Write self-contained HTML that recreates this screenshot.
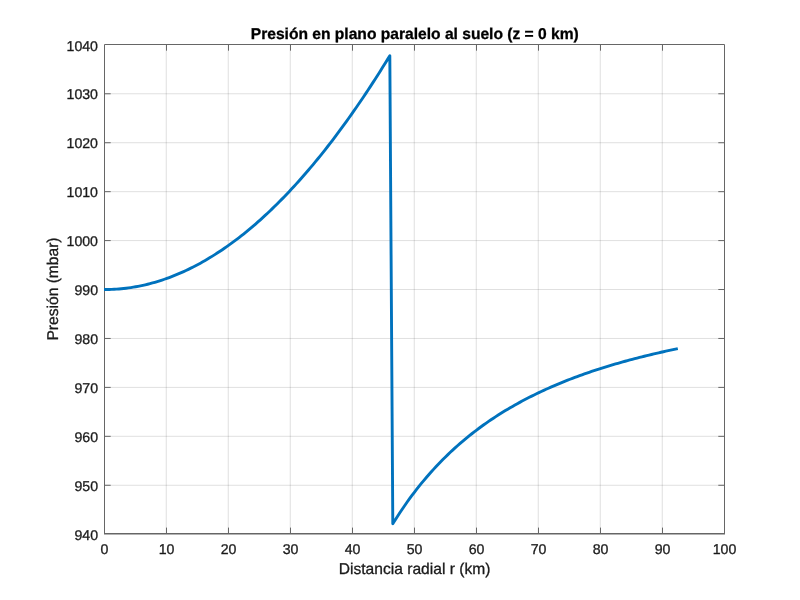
<!DOCTYPE html>
<html><head><meta charset="utf-8"><title>Presión</title>
<style>
html,body{margin:0;padding:0;background:#fff;}
body{width:800px;height:600px;overflow:hidden;}
svg{display:block;font-family:"Liberation Sans",sans-serif;text-rendering:geometricPrecision;}
</style></head><body>
<svg width="800" height="600" viewBox="0 0 800 600">
<rect width="800" height="600" fill="#fff"/>
<g stroke="#262626" stroke-opacity="0.14" stroke-width="1">
<line x1="166.25" y1="44.5" x2="166.25" y2="533.85"/>
<line x1="228.25" y1="44.5" x2="228.25" y2="533.85"/>
<line x1="290.25" y1="44.5" x2="290.25" y2="533.85"/>
<line x1="352.25" y1="44.5" x2="352.25" y2="533.85"/>
<line x1="414.25" y1="44.5" x2="414.25" y2="533.85"/>
<line x1="476.25" y1="44.5" x2="476.25" y2="533.85"/>
<line x1="538.25" y1="44.5" x2="538.25" y2="533.85"/>
<line x1="600.25" y1="44.5" x2="600.25" y2="533.85"/>
<line x1="662.25" y1="44.5" x2="662.25" y2="533.85"/>
<line x1="104.5" y1="485.27" x2="724.5" y2="485.27"/>
<line x1="104.5" y1="436.33" x2="724.5" y2="436.33"/>
<line x1="104.5" y1="387.40" x2="724.5" y2="387.40"/>
<line x1="104.5" y1="338.46" x2="724.5" y2="338.46"/>
<line x1="104.5" y1="289.53" x2="724.5" y2="289.53"/>
<line x1="104.5" y1="240.59" x2="724.5" y2="240.59"/>
<line x1="104.5" y1="191.66" x2="724.5" y2="191.66"/>
<line x1="104.5" y1="142.72" x2="724.5" y2="142.72"/>
<line x1="104.5" y1="93.78" x2="724.5" y2="93.78"/>
</g>
<g stroke="#666666" stroke-width="1" fill="none">
<path d="M104.5,533.85 V44.5 H724.5 V533.85"/>
<line x1="104.0" y1="533.8000000000001" x2="725.0" y2="533.8000000000001" stroke-width="1.5"/>
<line x1="166.5" y1="533.85" x2="166.5" y2="527.6"/>
<line x1="166.5" y1="44.5" x2="166.5" y2="50.7"/>
<line x1="228.5" y1="533.85" x2="228.5" y2="527.6"/>
<line x1="228.5" y1="44.5" x2="228.5" y2="50.7"/>
<line x1="290.5" y1="533.85" x2="290.5" y2="527.6"/>
<line x1="290.5" y1="44.5" x2="290.5" y2="50.7"/>
<line x1="352.5" y1="533.85" x2="352.5" y2="527.6"/>
<line x1="352.5" y1="44.5" x2="352.5" y2="50.7"/>
<line x1="414.5" y1="533.85" x2="414.5" y2="527.6"/>
<line x1="414.5" y1="44.5" x2="414.5" y2="50.7"/>
<line x1="476.5" y1="533.85" x2="476.5" y2="527.6"/>
<line x1="476.5" y1="44.5" x2="476.5" y2="50.7"/>
<line x1="538.5" y1="533.85" x2="538.5" y2="527.6"/>
<line x1="538.5" y1="44.5" x2="538.5" y2="50.7"/>
<line x1="600.5" y1="533.85" x2="600.5" y2="527.6"/>
<line x1="600.5" y1="44.5" x2="600.5" y2="50.7"/>
<line x1="662.5" y1="533.85" x2="662.5" y2="527.6"/>
<line x1="662.5" y1="44.5" x2="662.5" y2="50.7"/>
<line x1="104.5" y1="485.27" x2="110.7" y2="485.27"/>
<line x1="724.5" y1="485.27" x2="718.3" y2="485.27"/>
<line x1="104.5" y1="436.33" x2="110.7" y2="436.33"/>
<line x1="724.5" y1="436.33" x2="718.3" y2="436.33"/>
<line x1="104.5" y1="387.40" x2="110.7" y2="387.40"/>
<line x1="724.5" y1="387.40" x2="718.3" y2="387.40"/>
<line x1="104.5" y1="338.46" x2="110.7" y2="338.46"/>
<line x1="724.5" y1="338.46" x2="718.3" y2="338.46"/>
<line x1="104.5" y1="289.53" x2="110.7" y2="289.53"/>
<line x1="724.5" y1="289.53" x2="718.3" y2="289.53"/>
<line x1="104.5" y1="240.59" x2="110.7" y2="240.59"/>
<line x1="724.5" y1="240.59" x2="718.3" y2="240.59"/>
<line x1="104.5" y1="191.66" x2="110.7" y2="191.66"/>
<line x1="724.5" y1="191.66" x2="718.3" y2="191.66"/>
<line x1="104.5" y1="142.72" x2="110.7" y2="142.72"/>
<line x1="724.5" y1="142.72" x2="718.3" y2="142.72"/>
<line x1="104.5" y1="93.78" x2="110.7" y2="93.78"/>
<line x1="724.5" y1="93.78" x2="718.3" y2="93.78"/>
</g>
<path d="M104.00,289.57 L104.50,289.57 L106.90,289.55 L109.30,289.50 L111.69,289.42 L114.09,289.31 L116.49,289.16 L118.89,288.98 L121.28,288.76 L123.68,288.51 L126.08,288.23 L128.48,287.92 L130.87,287.57 L133.27,287.19 L135.67,286.78 L138.07,286.33 L140.47,285.86 L142.86,285.34 L145.26,284.80 L147.66,284.22 L150.06,283.61 L152.45,282.96 L154.85,282.29 L157.25,281.58 L159.65,280.83 L162.04,280.06 L164.44,279.25 L166.84,278.41 L169.24,277.53 L171.64,276.62 L174.03,275.68 L176.43,274.71 L178.83,273.70 L181.23,272.66 L183.62,271.59 L186.02,270.48 L188.42,269.34 L190.82,268.17 L193.21,266.96 L195.61,265.72 L198.01,264.45 L200.41,263.15 L202.80,261.81 L205.20,260.44 L207.60,259.04 L210.00,257.60 L212.40,256.13 L214.79,254.63 L217.19,253.09 L219.59,251.52 L221.99,249.92 L224.38,248.28 L226.78,246.62 L229.18,244.92 L231.58,243.18 L233.97,241.41 L236.37,239.61 L238.77,237.78 L241.17,235.92 L243.57,234.02 L245.96,232.08 L248.36,230.12 L250.76,228.12 L253.16,226.09 L255.55,224.03 L257.95,221.93 L260.35,219.80 L262.75,217.63 L265.14,215.44 L267.54,213.21 L269.94,210.95 L272.34,208.65 L274.74,206.32 L277.13,203.96 L279.53,201.57 L281.93,199.14 L284.33,196.68 L286.72,194.18 L289.12,191.66 L291.52,189.10 L293.92,186.50 L296.31,183.88 L298.71,181.22 L301.11,178.53 L303.51,175.80 L305.91,173.05 L308.30,170.25 L310.70,167.43 L313.10,164.57 L315.50,161.68 L317.89,158.76 L320.29,155.80 L322.69,152.82 L325.09,149.79 L327.48,146.74 L329.88,143.65 L332.28,140.53 L334.68,137.37 L337.08,134.19 L339.47,130.97 L341.87,127.71 L344.27,124.43 L346.67,121.11 L349.06,117.75 L351.46,114.37 L353.86,110.95 L356.26,107.50 L358.65,104.01 L361.05,100.50 L363.45,96.95 L365.85,93.36 L368.24,89.75 L370.64,86.10 L373.04,82.41 L375.44,78.70 L377.84,74.95 L380.23,71.17 L382.63,67.35 L385.03,63.51 L387.43,59.62 L389.82,55.71 L392.80,523.77 L395.20,519.93 L397.59,516.17 L399.99,512.51 L402.38,508.94 L404.78,505.45 L407.17,502.04 L409.57,498.72 L411.96,495.47 L414.36,492.30 L416.75,489.19 L419.15,486.16 L421.54,483.20 L423.94,480.31 L426.33,477.47 L428.73,474.71 L431.12,472.00 L433.52,469.35 L435.91,466.76 L438.31,464.22 L440.70,461.74 L443.10,459.31 L445.49,456.93 L447.89,454.60 L450.28,452.32 L452.68,450.09 L455.07,447.90 L457.47,445.75 L459.86,443.65 L462.26,441.59 L464.65,439.58 L467.05,437.60 L469.44,435.66 L471.84,433.76 L474.23,431.89 L476.63,430.06 L479.02,428.27 L481.42,426.51 L483.81,424.78 L486.21,423.09 L488.60,421.43 L491.00,419.80 L493.39,418.20 L495.79,416.62 L498.18,415.08 L500.58,413.56 L502.97,412.08 L505.37,410.61 L507.76,409.18 L510.16,407.77 L512.55,406.38 L514.95,405.02 L517.34,403.68 L519.74,402.37 L522.13,401.07 L524.53,399.80 L526.92,398.56 L529.32,397.33 L531.71,396.12 L534.11,394.93 L536.50,393.77 L538.90,392.62 L541.29,391.49 L543.69,390.38 L546.08,389.29 L548.48,388.21 L550.87,387.15 L553.27,386.11 L555.67,385.09 L558.06,384.08 L560.46,383.09 L562.85,382.11 L565.25,381.15 L567.64,380.20 L570.04,379.27 L572.43,378.35 L574.83,377.45 L577.22,376.56 L579.62,375.68 L582.01,374.82 L584.41,373.97 L586.80,373.13 L589.20,372.30 L591.59,371.49 L593.99,370.69 L596.38,369.90 L598.78,369.12 L601.17,368.35 L603.57,367.60 L605.96,366.85 L608.36,366.12 L610.75,365.39 L613.15,364.68 L615.54,363.97 L617.94,363.28 L620.33,362.59 L622.73,361.92 L625.12,361.25 L627.52,360.60 L629.91,359.95 L632.31,359.31 L634.70,358.68 L637.10,358.06 L639.49,357.44 L641.89,356.84 L644.28,356.24 L646.68,355.65 L649.07,355.07 L651.47,354.50 L653.86,353.93 L656.26,353.37 L658.65,352.82 L661.05,352.27 L663.44,351.74 L665.84,351.20 L668.23,350.68 L670.63,350.16 L673.02,349.65 L675.42,349.15 L677.81,348.65" fill="none" stroke="#0072BD" stroke-width="2.9" stroke-linejoin="round" stroke-linecap="butt"/>
<g font-size="14.15px" fill="#1a1a1a" stroke="#1a1a1a" stroke-width="0.3">
<text x="104.5" y="554.35" text-anchor="middle">0</text>
<text x="166.5" y="554.35" text-anchor="middle">10</text>
<text x="228.5" y="554.35" text-anchor="middle">20</text>
<text x="290.5" y="554.35" text-anchor="middle">30</text>
<text x="352.5" y="554.35" text-anchor="middle">40</text>
<text x="414.5" y="554.35" text-anchor="middle">50</text>
<text x="476.5" y="554.35" text-anchor="middle">60</text>
<text x="538.5" y="554.35" text-anchor="middle">70</text>
<text x="600.5" y="554.35" text-anchor="middle">80</text>
<text x="662.5" y="554.35" text-anchor="middle">90</text>
<text x="724.5" y="554.35" text-anchor="middle">100</text>
<text x="98.0" y="539.9" text-anchor="end">940</text>
<text x="98.0" y="490.9" text-anchor="end">950</text>
<text x="98.0" y="442.0" text-anchor="end">960</text>
<text x="98.0" y="393.0" text-anchor="end">970</text>
<text x="98.0" y="344.1" text-anchor="end">980</text>
<text x="98.0" y="295.2" text-anchor="end">990</text>
<text x="98.0" y="246.2" text-anchor="end">1000</text>
<text x="98.0" y="197.3" text-anchor="end">1010</text>
<text x="98.0" y="148.4" text-anchor="end">1020</text>
<text x="98.0" y="99.4" text-anchor="end">1030</text>
<text x="98.0" y="50.5" text-anchor="end">1040</text>
</g>
<text x="414.8" y="38.9" text-anchor="middle" font-size="15.6px" font-weight="bold" fill="#000" stroke="#000" stroke-width="0.3">Presión en plano paralelo al suelo (z = 0 km)</text>
<text x="414.6" y="574.3" text-anchor="middle" font-size="15.6px" fill="#1a1a1a" stroke="#1a1a1a" stroke-width="0.3">Distancia radial r (km)</text>
<text transform="translate(58.1,289) rotate(-90)" text-anchor="middle" font-size="15.6px" fill="#1a1a1a" stroke="#1a1a1a" stroke-width="0.3">Presión (mbar)</text>
</svg>
</body></html>
